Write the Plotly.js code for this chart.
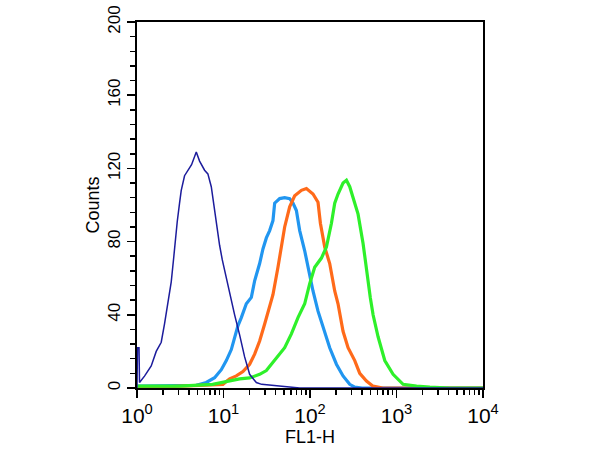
<!DOCTYPE html>
<html>
<head>
<meta charset="utf-8">
<script src="https://cdn.plot.ly/plotly-3.0.1.min.js"></script>
<style>
  html, body { margin: 0; padding: 0; background: #fff; }
  #chart { width: 600px; height: 450px; }
</style>
</head>
<body>
<div id="chart"></div>
<script>
// FL1-H channel values and counts
const navyX = [1, 1.013, 1.055, 1.069, 1.221, 1.46, 1.668, 1.906, 2.081, 2.273, 2.488, 2.667, 2.79, 2.92, 3.104, 3.247, 3.546, 3.873, 4.274, 4.845, 5.29, 6.043, 6.598, 7.224, 7.681, 8.254, 9.013, 9.685, 10.78, 11.77, 13.45, 15.36, 17.55, 20.05, 23.97, 27.61, 44.61, 76, 10000]
const navyY = [0, 22, 22, 3, 6.5, 12, 20, 25, 35, 46, 58, 72, 82, 91, 101, 108, 116, 119, 122, 129, 124, 119, 117, 110, 101, 90, 78, 70, 60, 51, 40, 29, 17, 7.5, 3, 2, 1, 0, 0]

const blueX = [1, 4.85, 6.32, 7.89, 9.43, 10.78, 12.31, 13.45, 14.68, 16.07, 18.36, 20.98, 22.91, 26.17, 28.58, 31.29, 34.17, 37.31, 39.04, 44.61, 50.95, 58.21, 63.56, 69.6, 76, 86.83, 94.83, 108.3, 123.8, 141.4, 169, 202.1, 241, 288, 329.1, 400, 10000]
const blueY = [1, 1.5, 3, 5.6, 10, 15, 21, 28, 34, 38.5, 46, 49.5, 58.6, 68, 76, 82, 86, 91.5, 101, 103.5, 104, 103.5, 101, 97, 86, 75, 66, 53, 42, 33, 22, 13, 6.6, 2, 0.5, 0, 0]

const orangeX = [1, 9.84, 11.77, 14.07, 16.77, 20.05, 22.91, 26.17, 29.91, 32.65, 37.31, 42.63, 46.67, 50.95, 58.21, 66.51, 79.53, 90.86, 108.3, 123.8, 131.9, 148, 169, 193.1, 210.9, 241, 275.4, 329.1, 376, 449.7, 536.1, 694.2, 10000]
const orangeY = [0, 2, 5, 6.6, 9, 13, 18.5, 25.7, 35, 42, 51, 66, 77, 88, 99, 105, 108, 109, 106, 101.5, 90, 77, 68, 53, 46, 31, 22, 15, 8, 3.8, 1, 0, 0]

const greenX = [1, 3.1, 7.48, 9.76, 15.36, 20.05, 26.17, 31.29, 40.84, 50.95, 60.9, 72.63, 86.83, 99.2, 113.3, 135.5, 154.8, 176.9, 193.1, 210.9, 241, 263.8, 288, 329.1, 359.4, 410.7, 449.7, 497.6, 536.1, 612.4, 731.9, 913.2, 1192, 1704, 2429, 4140, 10000]
const greenY = [1, 1, 2, 3, 5, 5.5, 7.5, 9.5, 16, 22, 29.6, 38.5, 46, 57, 66, 71, 77, 90, 101, 106, 112, 113.5, 110, 101, 95, 79, 64, 49.5, 40, 28, 15, 7.5, 2, 1, 0.5, 0, 0]

const decades = [1, 10, 100, 1000, 10000]
const decadeText = ['10<sup>0</sup>', '10<sup>1</sup>', '10<sup>2</sup>', '10<sup>3</sup>', '10<sup>4</sup>']

const trace = (x, y, color, width) => ({
  x, y, type: 'scatter', mode: 'lines',
  line: { color, width, shape: 'linear' },
  hoverinfo: 'skip',
})

const font = { family: 'Liberation Sans, Arial, sans-serif', color: '#000' }

Plotly.newPlot(
  'chart',
  [
    trace(blueX, blueY, '#2196f0', 3.2),
    trace(orangeX, orangeY, '#ff6a1a', 3.2),
    trace(greenX, greenY, '#2ef02a', 3.2),
    trace(navyX, navyY, '#1c1c9c', 1.5),
  ],
  {
    width: 600,
    height: 450,
    showlegend: false,
    paper_bgcolor: '#fff',
    plot_bgcolor: '#fff',
    margin: { l: 137, r: 117, t: 22, b: 62 },
    font,
    xaxis: {
      type: 'log',
      range: [0, 4],
      tickvals: decades,
      ticktext: decadeText,
      ticks: 'outside',
      ticklen: 8,
      tickwidth: 1.5,
      tickcolor: '#000',
      minor: { dtick: 'D1', ticks: 'outside', ticklen: 5, tickwidth: 1.5, tickcolor: '#000' },
      showgrid: false,
      zeroline: false,
      showline: true,
      mirror: true,
      linecolor: '#000',
      linewidth: 2,
      tickfont: { ...font, size: 21 },
      title: { text: 'FL1-H', font: { ...font, size: 18 }, standoff: 2 },
    },
    yaxis: {
      range: [0, 200],
      tickvals: [0, 40, 80, 120, 160, 200],
      tickangle: -90,
      ticks: 'outside',
      ticklen: 8,
      tickwidth: 1.5,
      tickcolor: '#000',
      minor: { dtick: 8, ticks: 'outside', ticklen: 5, tickwidth: 1.5, tickcolor: '#000' },
      showgrid: false,
      zeroline: false,
      showline: true,
      mirror: true,
      linecolor: '#000',
      linewidth: 2,
      tickfont: { ...font, size: 17 },
      title: { text: 'Counts', font: { ...font, size: 18 }, standoff: 1 },
    },
  },
  { displayModeBar: false, staticPlot: true },
)
</script>
</body>
</html>
